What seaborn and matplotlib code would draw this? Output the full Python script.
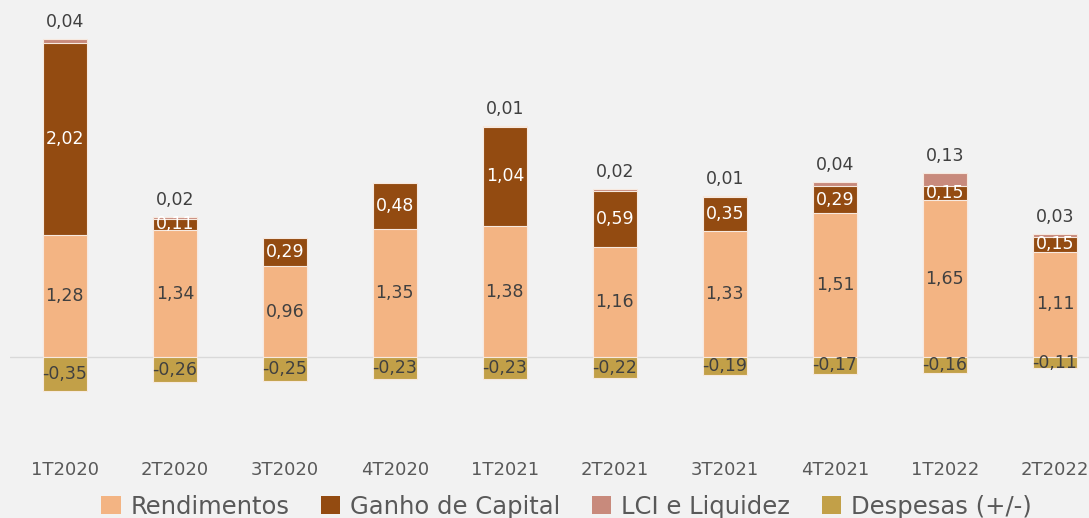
import matplotlib
matplotlib.use("Agg")
import matplotlib.pyplot as plt
import seaborn as sns
import numpy as np
import pandas as pd
from matplotlib.patches import Patch

quarters = ["1T2020", "2T2020", "3T2020", "4T2020", "1T2021",
            "2T2021", "3T2021", "4T2021", "1T2022", "2T2022"]
rendimentos = [1.28, 1.34, 0.96, 1.35, 1.38, 1.16, 1.33, 1.51, 1.65, 1.11]
ganho_capital = [2.02, 0.11, 0.29, 0.48, 1.04, 0.59, 0.35, 0.29, 0.15, 0.15]
lci_liquidez = [0.04, 0.02, 0.0, 0.0, 0.01, 0.02, 0.01, 0.04, 0.13, 0.03]
despesas = [-0.35, -0.26, -0.25, -0.23, -0.23, -0.22, -0.19, -0.17, -0.16, -0.11]

colors = {
    "Rendimentos": "#F3B483",
    "Ganho de Capital": "#934B11",
    "LCI e Liquidez": "#C88A7C",
    "Despesas (+/-)": "#C2A048",
}
bg = "#F2F2F2"

sns.set_theme(style="white")
plt.rcParams["font.family"] = ["DejaVu Sans"]

df = pd.DataFrame({
    "trimestre": quarters,
    "rend": rendimentos,
    "ganho": ganho_capital,
    "lci": lci_liquidez,
    "desp": despesas,
})
df["top2"] = df["rend"] + df["ganho"]
df["top3"] = df["top2"] + df["lci"]

fig = plt.figure(figsize=(10.89, 5.18), dpi=100, facecolor=bg)
ax = fig.add_axes([0.009, 0.15, 0.991, 0.85])
ax.set_facecolor(bg)

bar_kw = dict(width=0.4, edgecolor="#F7E9DF", linewidth=0.8, saturation=1, ax=ax)
sns.barplot(data=df, x="trimestre", y="top3", color=colors["LCI e Liquidez"], **bar_kw)
sns.barplot(data=df, x="trimestre", y="top2", color=colors["Ganho de Capital"], **bar_kw)
sns.barplot(data=df, x="trimestre", y="rend", color=colors["Rendimentos"], **bar_kw)
sns.barplot(data=df, x="trimestre", y="desp", color=colors["Despesas (+/-)"], **bar_kw)

ax.axhline(0, color="#D9D9D9", linewidth=1, zorder=0.5)
ax.set_xlim(-0.5, 9.31)
ax.set_ylim(-0.87, 3.75)

def fmt(v):
    return f"{v:.2f}".replace(".", ",")

lbl = dict(ha="center", va="center", fontsize=12.5)
for i, row in df.iterrows():
    ax.text(i, row["rend"] / 2, fmt(row["rend"]), color="#404040", **lbl)
    ax.text(i, row["rend"] + row["ganho"] / 2, fmt(row["ganho"]), color="white", **lbl)
    if row["lci"] > 0:
        ax.text(i, row["top3"] + 0.18, fmt(row["lci"]), color="#404040", **lbl)
    ax.text(i, row["desp"] / 2, fmt(row["desp"]), color="#404040", **lbl)

ax.set_xlabel("")
ax.set_ylabel("")
ax.set_yticks([])
ax.tick_params(axis="x", length=0, pad=15, labelsize=13, labelcolor="#595959")
sns.despine(ax=ax, left=True, bottom=True)

handles = [Patch(facecolor=c, edgecolor="none", label=k) for k, c in colors.items()]
fig.legend(handles=handles, loc="center", bbox_to_anchor=(0.52, 0.022), ncol=4,
           frameon=False, fontsize=17.5, labelcolor="#595959", handlelength=0.8,
           handleheight=0.8, handletextpad=0.4, columnspacing=1.3)

fig.savefig("out.png", dpi=100, facecolor=bg)
